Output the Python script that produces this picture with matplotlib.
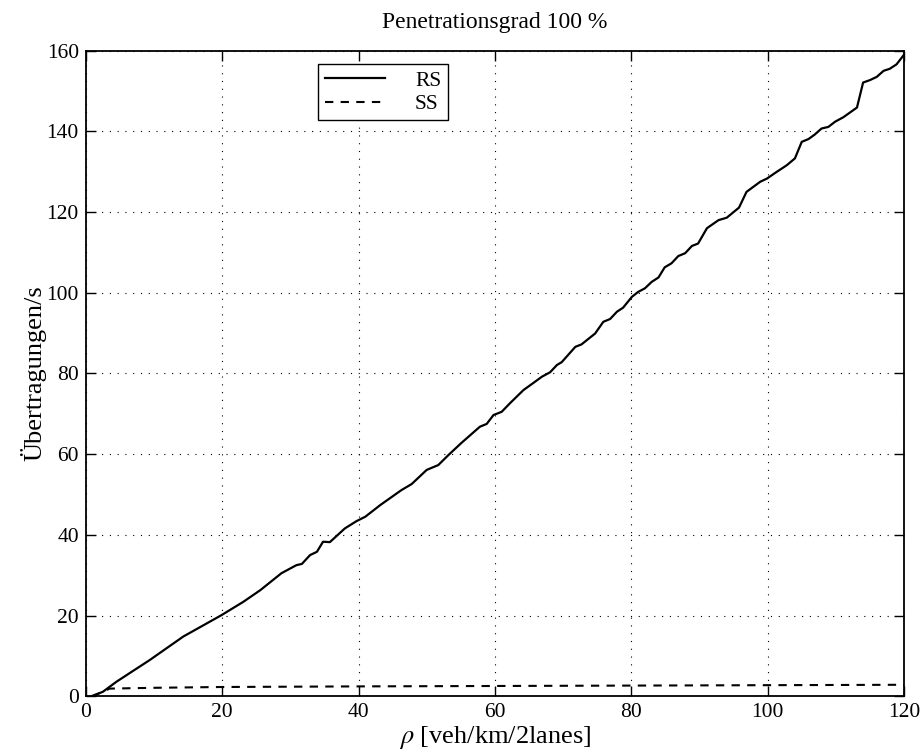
import matplotlib
matplotlib.use("Agg")
import matplotlib.pyplot as plt

# RS: number of transmissions per second over density
rs_x = [0.8, 2.5, 4.5, 9.4, 14.3, 19.9, 23.1, 25.6, 28.7, 30.9, 31.7, 32.9, 33.9,
        34.8, 35.8, 38.0, 39.7, 41.0, 43.2, 46.3, 47.8, 50.0, 51.7, 53.2, 55.1,
        57.8, 58.8, 59.8, 61.0, 62.2, 64.2, 65.6, 66.9, 68.1, 69.1, 69.8, 71.8,
        72.7, 74.7, 75.9, 76.9, 77.9, 78.8, 80.1, 81.0, 82.0, 83.0, 84.0, 84.9,
        85.9, 86.9, 87.9, 88.9, 89.8, 91.1, 92.8, 94.0, 95.8, 96.9, 98.9, 99.9,
        101.1, 102.8, 104.0, 105.0, 106.0, 106.9, 107.9, 108.9, 109.9, 111.1,
        112.1, 113.1, 114.0, 115.0, 116.0, 117.0, 117.9, 118.9, 120.0]
rs_y = [0.0, 1.1, 3.6, 9.0, 14.8, 20.1, 23.4, 26.3, 30.5, 32.5, 32.8, 35.0, 35.8,
        38.3, 38.2, 41.6, 43.4, 44.5, 47.4, 51.1, 52.6, 56.1, 57.3, 59.8, 62.8,
        66.8, 67.5, 69.7, 70.5, 72.6, 75.9, 77.6, 79.2, 80.3, 82.1, 82.8, 86.6,
        87.2, 89.9, 92.8, 93.5, 95.3, 96.3, 99.0, 100.2, 101.1, 102.7, 103.8, 106.3,
        107.3, 109.1, 109.8, 111.6, 112.2, 116.0, 118.0, 118.6, 121.1, 125.0, 127.5, 128.3,
        129.7, 131.6, 133.3, 137.4, 138.1, 139.2, 140.7, 141.1, 142.4, 143.5,
        144.7, 145.9, 152.1, 152.7, 153.5, 155.0, 155.5, 156.6, 159.0]

# SS: nearly constant rate
ss_x = [1.0, 3.5, 10, 20, 40, 60, 80, 100, 120]
ss_y = [0.0, 1.9, 2.1, 2.3, 2.45, 2.55, 2.65, 2.75, 2.85]

x_ticks = [0, 20, 40, 60, 80, 100, 120]
y_ticks = [0, 20, 40, 60, 80, 100, 120, 140, 160]

plt.rcParams["font.family"] = ["Liberation Serif", "DejaVu Serif"]
plt.rcParams["mathtext.fontset"] = "stix"

fig = plt.figure(figsize=(9.22, 7.56), dpi=100)
ax = fig.add_axes([0.093, 0.079, 0.8875, 0.854])

ax.plot(rs_x, rs_y, color="black", lw=1.6, label="RS")
ax.plot(ss_x, ss_y, color="black", lw=1.5, dashes=(4, 3.5), label="SS")

ax.set_xlim(0, 120)
ax.set_ylim(0, 160)
ax.set_xticks(x_ticks)
ax.set_yticks(y_ticks)
ax.tick_params(direction="in", length=7, width=1, top=True, right=True,
               labelsize=15.5, pad=5)
for s in ax.spines.values():
    s.set_linewidth(1.3)
ax.grid(True, color="black", linestyle=(0, (1, 6)), lw=0.8)

ax.set_title("Penetrationsgrad 100 %", fontsize=17, pad=16)
ax.set_xlabel(r"$\rho$ [veh/km/2lanes]", fontsize=19, labelpad=1)
ax.set_ylabel("Übertragungen/s", fontsize=19, labelpad=0)

leg = ax.legend(loc="upper left", bbox_to_anchor=(0.284, 0.979), borderaxespad=0,
                fontsize=15.5, handlelength=2.8, frameon=True, fancybox=False,
                edgecolor="black", framealpha=1, borderpad=0.3, labelspacing=0.15,
                handletextpad=1.4)
leg.get_frame().set_linewidth(1.0)

fig.savefig("out.png", dpi=100)
